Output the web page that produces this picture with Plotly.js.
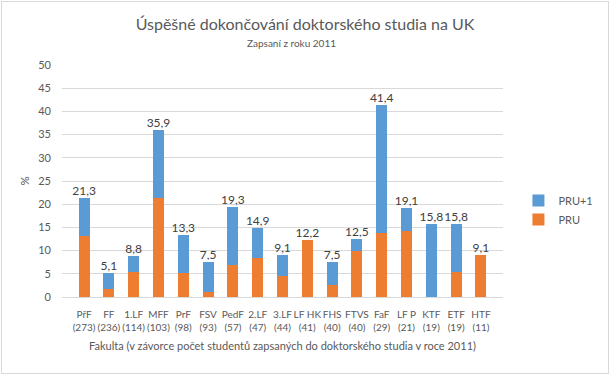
<!DOCTYPE html>
<html><head><meta charset="utf-8">
<script src="https://cdn.plot.ly/plotly-3.0.1.min.js"></script>
<style>
html,body{margin:0;padding:0;background:#fff;}
#wrap{position:absolute;left:1px;top:1px;width:606px;height:371px;border:1px solid #d9d9d9;overflow:hidden;}
#chart{position:absolute;left:-2px;top:-2px;width:610px;height:375px;}
</style></head>
<body><div id="wrap"><div id="chart"></div></div>
<script>
const faculties = ["PřF","FF","1.LF","MFF","PrF","FSV","PedF","2.LF","3.LF","LF HK","FHS","FTVS","FaF","LF P","KTF","ETF","HTF"];
const students = [273,236,114,103,98,93,57,47,44,41,40,40,29,21,19,19,11];
const pru = [13.2,1.7,5.3,21.4,5.1,1.1,7.0,8.5,4.5,12.2,2.5,10.0,13.8,14.3,0,5.3,9.1];
const total = [21.3,5.1,8.8,35.9,13.3,7.5,19.3,14.9,9.1,12.2,7.5,12.5,41.4,19.1,15.8,15.8,9.1];
const pruPlus1 = total.map((t,i)=>Math.round((t-pru[i])*10)/10);
const tickLabels = faculties.map((f,i)=>f+"<br>("+students[i]+")");
const labelText = total.map(v=>v.toFixed(1).replace(".",","));

const font = "Lato, 'Noto Sans', sans-serif";
const traces = [
  {type:"bar", name:"PRU", x:faculties, y:pru, marker:{color:"#ed7d31"}, hoverinfo:"y", legendrank:2},
  {type:"bar", name:"PRU+1", x:faculties, y:pruPlus1, marker:{color:"#5b9bd5"}, hoverinfo:"y", legendrank:1},
  {type:"scatter", mode:"text", x:faculties, y:total, text:labelText, textposition:"top center",
   textfont:{size:12, color:"#404040", family:font}, showlegend:false, hoverinfo:"skip", cliponaxis:false}
];
const layout = {
  width:610, height:375,
  margin:{l:62, r:79, t:65, b:78},
  paper_bgcolor:"#fff", plot_bgcolor:"#fff",
  barmode:"stack", bargap:0.56,
  font:{family:font, color:"#595959", size:11},
  title:{text:"Úspěšné dokončování doktorského studia na UK",
    x:0.5, xanchor:"center", y:0.935, yanchor:"middle", font:{size:16, color:"#595959", family:font}},
  annotations:[{text:"Zapsaní z roku 2011", xref:"paper", yref:"paper", x:0.5, xanchor:"center",
    y:1.0+(65-43)/232, yanchor:"middle", showarrow:false, font:{size:10, color:"#595959"}, xshift:(79-62)/2}],
  xaxis:{tickvals:faculties, ticktext:tickLabels, tickangle:0, tickfont:{size:10, color:"#595959"},
    showgrid:false, zeroline:false, showline:false, ticks:"", ticklabelstandoff:10,
    title:{text:"Fakulta (v závorce počet studentů zapsaných do doktorského studia v roce 2011)", font:{size:11, color:"#595959"}, standoff:10}},
  yaxis:{range:[0,50], dtick:5, showgrid:true, gridcolor:"#d9d9d9", zeroline:true, zerolinecolor:"#d9d9d9",
    showline:false, ticks:"", tickfont:{size:11, color:"#595959"}, ticklabelstandoff:10,
    title:{text:"%", font:{size:11.5, color:"#595959"}, standoff:6}},
  legend:{x:1.035, xanchor:"left", y:0.375, yanchor:"middle", traceorder:"normal",
    font:{size:11, color:"#595959"}, itemwidth:30, tracegroupgap:8},
  showlegend:true
};
Plotly.newPlot("chart", traces, layout, {displayModeBar:false, staticPlot:true});
</script></body></html>
